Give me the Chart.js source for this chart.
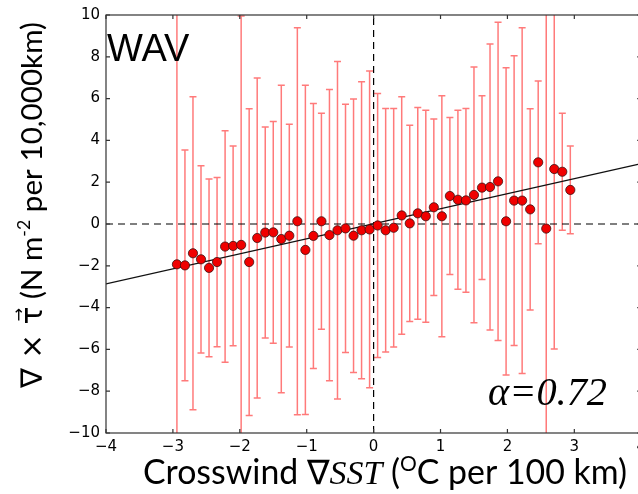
<!DOCTYPE html>
<html>
<head>
<meta charset="utf-8">
<script src="https://cdn.jsdelivr.net/npm/chart.js@4.4.0/dist/chart.umd.min.js"></script>
<style>
  html, body { margin: 0; padding: 0; overflow: hidden; background: #fff; }
</style>
</head>
<body>
<canvas id="curl-chart" width="651" height="494"></canvas>
<script>
// bin centres of crosswind SST gradient (degC per 100 km)
const binCenters = [
  -2.94, -2.82, -2.70, -2.58, -2.46, -2.34, -2.22, -2.10, -1.98, -1.86,
  -1.74, -1.62, -1.50, -1.38, -1.26, -1.14, -1.02, -0.90, -0.78, -0.66,
  -0.54, -0.42, -0.30, -0.18, -0.06, 0.06, 0.18, 0.30, 0.42, 0.54,
  0.66, 0.78, 0.90, 1.02, 1.14, 1.26, 1.38, 1.50, 1.62, 1.74,
  1.86, 1.98, 2.10, 2.22, 2.34, 2.46, 2.58, 2.70, 2.82, 2.94,
];
// bin-mean wind stress curl (N m-2 per 10,000 km)
const curlMean = [
  -1.93, -1.98, -1.40, -1.69, -2.10, -1.82, -1.08, -1.05, -1.00, -1.82,
  -0.67, -0.41, -0.40, -0.72, -0.56, 0.13, -1.24, -0.57, 0.13, -0.53,
  -0.30, -0.21, -0.56, -0.30, -0.26, -0.07, -0.30, -0.18, 0.41, 0.03,
  0.51, 0.37, 0.80, 0.37, 1.34, 1.16, 1.13, 1.39, 1.74, 1.77,
  2.04, 0.13, 1.12, 1.12, 0.70, 2.95, -0.22, 2.63, 2.50, 1.63,
];
// half length of each error bar (one std dev)
const curlSpread = [
  13.0, 5.52, 7.49, 4.48, 4.25, 4.05, 5.54, 4.78, 10.95, 7.34,
  7.66, 5.05, 5.31, 7.36, 5.33, 9.26, 7.88, 6.34, 5.17, 6.97,
  8.07, 5.94, 6.54, 7.11, 7.58, 6.32, 5.83, 5.71, 5.68, 4.69,
  5.07, 5.07, 4.22, 5.77, 3.76, 4.28, 4.40, 6.12, 4.40, 6.84,
  7.61, 7.35, 6.93, 8.27, 4.82, 3.89, 11.0, 8.61, 2.80, 2.10,
];
// least squares fit, slope alpha = 0.72
const fitX = [-4, 4];
const fitY = [-2.87, 2.89];

const zeroX = [-4, 4];
const zeroY = [0, 0];

const xTicks = [-4, -3, -2, -1, 0, 1, 2, 3, 4];
const yTicks = [-10, -8, -6, -4, -2, 0, 2, 4, 6, 8, 10];

const LABEL_FONT = "Lato, 'Open Sans', sans-serif";
const TICK_FONT = "'DejaVu Sans', sans-serif";

function pts(xs, ys) {
  return xs.map((x, i) => ({ x: x, y: ys[i] }));
}

function minusSign(v) {
  return String(v).replace("-", "\u2212");
}

// draw text made of runs, scaled so the whole string is `width` long
function drawRuns(ctx, runs, x, y, width, baseSize) {
  const fontFor = (r, size) =>
    (r.style || "") + " " + (size * (r.s || 1)).toFixed(2) + "px " + (r.f || LABEL_FONT);
  let natural = 0;
  runs.forEach((r) => {
    ctx.font = fontFor(r, baseSize);
    natural += ctx.measureText(r.t).width;
  });
  const size = (baseSize * width) / natural;
  let cx = x;
  runs.forEach((r) => {
    ctx.font = fontFor(r, size);
    const w = ctx.measureText(r.t).width;
    ctx.fillText(r.t, cx, y + (r.dy || 0) * size);
    if (r.arrow) {
      ctx.font = (size * 0.55).toFixed(2) + "px " + TICK_FONT;
      const aw = ctx.measureText("\u2192").width;
      ctx.fillText("\u2192", cx + (w - aw) / 2 + 1, y - size * 0.62);
    }
    cx += w;
  });
}

const errorBars = {
  id: "errorBars",
  beforeDatasetsDraw(chart) {
    const { ctx, chartArea, scales } = chart;
    ctx.save();
    ctx.beginPath();
    ctx.rect(chartArea.left, chartArea.top, chartArea.right - chartArea.left, chartArea.bottom - chartArea.top);
    ctx.clip();
    ctx.strokeStyle = "rgba(255, 40, 40, 0.62)";
    ctx.lineWidth = 1.5;
    binCenters.forEach((bx, i) => {
      const px = scales.x.getPixelForValue(bx);
      const hi = scales.y.getPixelForValue(curlMean[i] + curlSpread[i]);
      const lo = scales.y.getPixelForValue(curlMean[i] - curlSpread[i]);
      ctx.beginPath();
      ctx.moveTo(px, hi);
      ctx.lineTo(px, lo);
      ctx.moveTo(px - 3.5, hi);
      ctx.lineTo(px + 3.5, hi);
      ctx.moveTo(px - 3.5, lo);
      ctx.lineTo(px + 3.5, lo);
      ctx.stroke();
    });
    ctx.restore();
  },
};

const frame = {
  id: "frame",
  afterDatasetsDraw(chart) {
    const { ctx, chartArea: a, scales } = chart;
    ctx.save();
    ctx.strokeStyle = "#333";
    ctx.lineWidth = 1.2;
    ctx.strokeRect(a.left, a.top, a.right - a.left, a.bottom - a.top);
    ctx.beginPath();
    xTicks.forEach((v) => {
      const px = scales.x.getPixelForValue(v);
      ctx.moveTo(px, a.bottom);
      ctx.lineTo(px, a.bottom - 4);
      ctx.moveTo(px, a.top);
      ctx.lineTo(px, a.top + 4);
    });
    yTicks.forEach((v) => {
      const py = scales.y.getPixelForValue(v);
      ctx.moveTo(a.left, py);
      ctx.lineTo(a.left + 4, py);
      ctx.moveTo(a.right, py);
      ctx.lineTo(a.right - 4, py);
    });
    ctx.stroke();
    ctx.restore();
  },
};

const annotations = {
  id: "annotations",
  afterDraw(chart) {
    const ctx = chart.ctx;
    ctx.save();
    ctx.fillStyle = "#000";
    ctx.textBaseline = "alphabetic";
    ctx.textAlign = "left";

    ctx.font = "38px 'Liberation Sans', Arial, sans-serif";
    ctx.fillText("WAV", 107, 61);

    drawRuns(ctx, [{ t: "\u03b1=0.72", f: "'Liberation Serif', serif", style: "italic" }], 488, 405, 119, 38);

    drawRuns(ctx, [
      { t: "Crosswind " },
      { t: "\u2207", f: TICK_FONT },
      { t: "SST", f: "'Liberation Serif', serif", style: "italic" },
      { t: " (" },
      { t: "O", s: 0.62, dy: -0.38 },
      { t: "C per 100 km)" },
    ], 143, 484, 484, 30);

    ctx.translate(42, 388);
    ctx.rotate(-Math.PI / 2);
    drawRuns(ctx, [
      { t: "\u2207 \u00d7 ", f: TICK_FONT },
      { t: "\u03c4", f: TICK_FONT, arrow: true },
      { t: " (N m" },
      { t: "-2", s: 0.6, dy: -0.4 },
      { t: " per 10,000km)" },
    ], 0, 0, 366, 30);
    ctx.restore();
  },
};

const ctx = document.getElementById("curl-chart");

new Chart(ctx, {
  type: "scatter",
  data: {
    datasets: [
      {
        type: "line",
        data: pts(zeroX, zeroY),
        borderColor: "#000",
        borderWidth: 1.2,
        borderDash: [7, 5],
        pointRadius: 0,
        order: 4,
      },
      {
        type: "line",
        data: pts([0, 0], [-10, 10]),
        borderColor: "#000",
        borderWidth: 1.2,
        borderDash: [7, 5],
        pointRadius: 0,
        order: 3,
      },
      {
        type: "line",
        data: pts(fitX, fitY),
        borderColor: "#111",
        borderWidth: 1.2,
        pointRadius: 0,
        order: 2,
      },
      {
        data: pts(binCenters, curlMean),
        backgroundColor: "#f00000",
        borderColor: "#3a1010",
        borderWidth: 0.8,
        pointRadius: 4.6,
        order: 1,
      },
    ],
  },
  options: {
    responsive: false,
    animation: false,
    devicePixelRatio: 1,
    layout: { padding: { top: 15, right: 2, left: 0, bottom: 0 } },
    plugins: {
      legend: { display: false },
      tooltip: { enabled: false },
    },
    scales: {
      x: {
        type: "linear",
        min: -4,
        max: 4,
        afterBuildTicks: (s) => { s.ticks = xTicks.map((v) => ({ value: v })); },
        afterFit: (s) => { s.height = 61; },
        grid: { display: false, drawTicks: false },
        border: { display: false },
        ticks: {
          color: "#000",
          padding: 5,
          font: { family: TICK_FONT, size: 15 },
          callback: minusSign,
        },
      },
      y: {
        min: -10,
        max: 10,
        afterBuildTicks: (s) => { s.ticks = yTicks.map((v) => ({ value: v })); },
        afterFit: (s) => { s.width = 106; },
        grid: { display: false, drawTicks: false },
        border: { display: false },
        ticks: {
          color: "#000",
          padding: 6,
          font: { family: TICK_FONT, size: 15 },
          callback: minusSign,
        },
      },
    },
  },
  plugins: [errorBars, frame, annotations],
});
</script>
</body>
</html>
